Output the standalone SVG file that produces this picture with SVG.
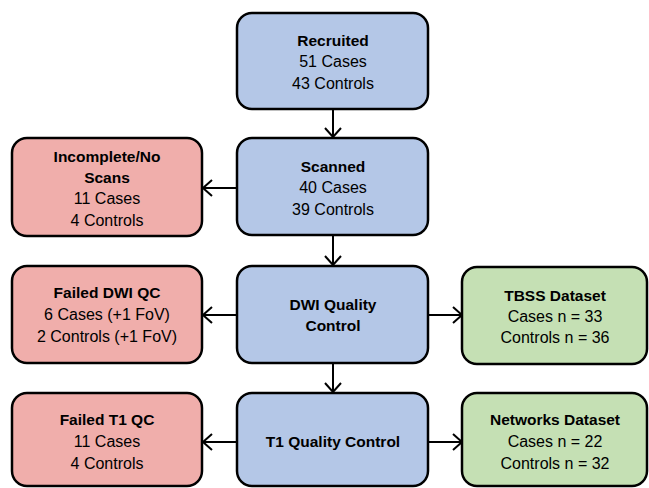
<svg xmlns="http://www.w3.org/2000/svg" width="649" height="488" viewBox="0 0 649 488">
<style>
.box{stroke:#000;stroke-width:2.5}
.blue{fill:#b4c7e7}
.red{fill:#f0aeab}
.green{fill:#c5e0b4}
text{font-family:"Liberation Sans",Arial,sans-serif;font-size:16px;fill:#000;text-anchor:middle}
.b{font-weight:bold;font-size:15.5px}
.conn{stroke:#000;stroke-width:2;fill:none;marker-end:url(#arr)}
</style>
<defs>
<marker id="arr" markerWidth="12" markerHeight="18" refX="10" refY="9" orient="auto" markerUnits="userSpaceOnUse">
<path d="M1,1 L10,9 L1,17" fill="none" stroke="#000" stroke-width="2"/>
</marker>
</defs>
<rect width="649" height="488" fill="#fff"/>
<g id="connectors">
<line class="conn" x1="333" y1="109" x2="333" y2="137"/>
<line class="conn" x1="333" y1="235" x2="333" y2="265"/>
<line class="conn" x1="333" y1="363" x2="333" y2="392"/>
<line class="conn" x1="237" y1="188" x2="203" y2="188"/>
<line class="conn" x1="237" y1="315" x2="203" y2="315"/>
<line class="conn" x1="428" y1="315" x2="462" y2="315"/>
<line class="conn" x1="237" y1="442" x2="203" y2="442"/>
<line class="conn" x1="428" y1="442" x2="462" y2="442"/>
</g>
<g id="recruited">
<rect class="box blue" x="237" y="13" width="191" height="96" rx="15"/>
<text class="b" x="333" y="46">Recruited</text>
<text x="333" y="67">51 Cases</text>
<text x="333" y="89">43 Controls</text>
</g>
<g id="scanned">
<rect class="box blue" x="237" y="138" width="191" height="97" rx="15"/>
<text class="b" x="333" y="172">Scanned</text>
<text x="333" y="193">40 Cases</text>
<text x="333" y="215">39 Controls</text>
</g>
<g id="incomplete">
<rect class="box red" x="12" y="138" width="190" height="98" rx="15"/>
<text class="b" x="107" y="162">Incomplete/No</text>
<text class="b" x="107" y="183">Scans</text>
<text x="107" y="204">11 Cases</text>
<text x="107" y="226">4 Controls</text>
</g>
<g id="dwiqc">
<rect class="box blue" x="237" y="266" width="191" height="97" rx="15"/>
<text class="b" x="333" y="310">DWI Quality</text>
<text class="b" x="333" y="331">Control</text>
</g>
<g id="faileddwi">
<rect class="box red" x="12" y="266" width="190" height="97" rx="15"/>
<text class="b" x="107" y="298">Failed DWI QC</text>
<text x="107" y="320">6 Cases (+1 FoV)</text>
<text x="107" y="342">2 Controls (+1 FoV)</text>
</g>
<g id="tbss">
<rect class="box green" x="462" y="267" width="185" height="97" rx="15"/>
<text class="b" x="555" y="301">TBSS Dataset</text>
<text x="555" y="322">Cases n = 33</text>
<text x="555" y="343">Controls n = 36</text>
</g>
<g id="t1qc">
<rect class="box blue" x="237" y="393" width="191" height="93" rx="15"/>
<text class="b" x="333" y="447">T1 Quality Control</text>
</g>
<g id="failedt1">
<rect class="box red" x="12" y="393" width="190" height="93" rx="15"/>
<text class="b" x="107" y="425">Failed T1 QC</text>
<text x="107" y="447">11 Cases</text>
<text x="107" y="469">4 Controls</text>
</g>
<g id="networks">
<rect class="box green" x="462" y="393" width="185" height="93" rx="15"/>
<text class="b" x="555" y="425">Networks Dataset</text>
<text x="555" y="447">Cases n = 22</text>
<text x="555" y="469">Controls n = 32</text>
</g>
</svg>
